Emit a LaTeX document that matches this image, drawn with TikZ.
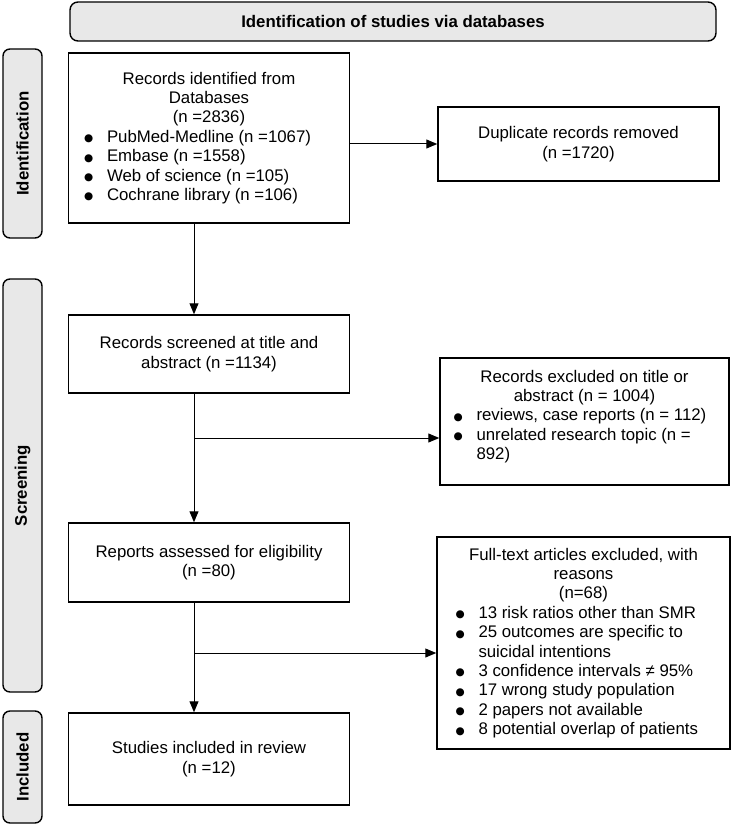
\documentclass[tikz,border=0pt]{standalone}
\usepackage{fontspec}
\setmainfont{Liberation Sans}
\newfontfamily\symfont{DejaVu Sans}
\usepackage{tikz}
\usetikzlibrary{arrows.meta}
\definecolor{labelgray}{RGB}{232,232,232}
\newcommand{\bul}[1]{\par\hangindent=23pt\hangafter=1\noindent\makebox[23pt][l]{\raisebox{0.6pt}{\symfont\fontsize{10.5}{10.5}\selectfont ●}}#1}

\begin{document}
\begin{tikzpicture}[x=1pt,y=-1pt,
  every node/.style={font=\fontsize{16.8}{19.4}\selectfont,inner sep=0pt},
  box/.style={draw,line width=1.5pt,minimum width=281pt},
  side/.style={draw,line width=1.4pt,rounded corners=7pt,fill=labelgray,minimum height=39pt,rotate=90,font=\fontsize{16.8}{19.4}\selectfont\bfseries},
  arr/.style={line width=1pt,-{Triangle[length=11pt,width=9pt]}}]
\useasboundingbox (0,0) rectangle (731,826);
\node[draw,line width=1.4pt,rounded corners=8pt,fill=labelgray,minimum width=646pt,minimum height=39pt,font=\fontsize{16.8}{19.4}\selectfont\bfseries] (top) at (393,21.5) {Identification of studies via databases};
\node[side,minimum width=189pt] (lid) at (22.5,143.5) {Identification};
\node[side,minimum width=413pt] (lscr) at (22.5,485.5) {Screening};
\node[side,minimum width=112pt] (linc) at (22.5,767) {Included};
% left column
\node[box,minimum height=170pt] (id) at (209,138) {\begin{minipage}{250pt}\centering Records identified from\\Databases\\(n =2836)\par\raggedright
 \bul{PubMed-Medline (n =1067)}\bul{Embase (n =1558)}\bul{Web of science (n =105)}\bul{Cochrane library (n =106)}\end{minipage}};
\node[box,minimum height=78pt] (scr) at (209,354) {\begin{minipage}{250pt}\centering Records screened at title and\\abstract (n =1134)\end{minipage}};
\node[box,minimum height=79pt] (elig) at (209,562.5) {\begin{minipage}{250pt}\centering Reports assessed for eligibility\\(n =80)\end{minipage}};
\node[box,minimum height=92pt] (inc) at (209,759) {\begin{minipage}{250pt}\centering Studies included in review\\(n =12)\end{minipage}};
% right column
\node[box,minimum width=281pt,minimum height=74pt] (dup) at (578.5,144) {\begin{minipage}{250pt}\centering Duplicate records removed\\(n =1720)\end{minipage}};
\node[box,minimum width=289pt,minimum height=127pt] (ex1) at (584.5,421.5) {\begin{minipage}{262pt}\centering Records excluded on title or\\abstract (n = 1004)\par\raggedright
 \bul{reviews, case reports (n = 112)}\bul{unrelated research topic (n =\newline 892)}\par\vspace{10pt}\end{minipage}};
\node[box,minimum width=293pt,minimum height=212pt] (ex2) at (583.5,643) {\begin{minipage}{256pt}\centering Full-text articles excluded, with\\reasons\\(n=68)\par\raggedright
 \bul{13 risk ratios other than SMR}\bul{25 outcomes are specific to\newline suicidal intentions}\bul{3 confidence intervals ≠ 95\%}\bul{17 wrong study population}\bul{2 papers not available}\bul{8 potential overlap of patients}\end{minipage}};
% connectors
\coordinate (sp) at (194,0);
\coordinate (b1) at (194,438);
\coordinate (b2) at (194,653);
\draw[arr] (id.east |- dup.west) -- (dup.west);
\draw[arr] (id.south -| sp) -- (scr.north -| sp);
\draw[arr] (scr.south -| sp) -- (elig.north -| sp);
\draw[arr] (elig.south -| sp) -- (inc.north -| sp);
\draw[arr] (b1) -- (b1 -| ex1.west); \draw[arr] (b2) -- (b2 -| ex2.west);
\end{tikzpicture}
\end{document}
